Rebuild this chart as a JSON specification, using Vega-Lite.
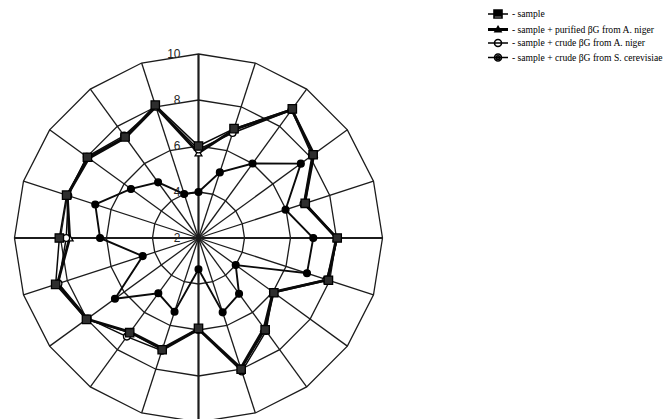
{
  "$schema": "https://vega.github.io/schema/vega-lite/v6.json",
  "width": 664,
  "height": 419,
  "autosize": "none",
  "padding": 0,
  "background": "white",
  "config": {"view": {"stroke": null}},
  "datasets": {
    "rings": [
      {"ring": 4, "angle": [0, 18, 36, 54, 72, 90, 108, 126, 144, 162, 180, 198, 216, 234, 252, 270, 288, 306, 324, 342]},
      {"ring": 6, "angle": [0, 18, 36, 54, 72, 90, 108, 126, 144, 162, 180, 198, 216, 234, 252, 270, 288, 306, 324, 342]},
      {"ring": 8, "angle": [0, 18, 36, 54, 72, 90, 108, 126, 144, 162, 180, 198, 216, 234, 252, 270, 288, 306, 324, 342]},
      {"ring": 10, "angle": [0, 18, 36, 54, 72, 90, 108, 126, 144, 162, 180, 198, 216, 234, 252, 270, 288, 306, 324, 342]}
    ],
    "spokes": [
      {"angle": [0, 18, 36, 54, 72, 90, 108, 126, 144, 162, 180, 198, 216, 234, 252, 270, 288, 306, 324, 342]}
    ],
    "ticks": [{"label": 2}, {"label": 4}, {"label": 6}, {"label": 8}, {"label": 10}],
    "scores": [
      {"series": "sample", "angle": 0, "value": 6.0},
      {"series": "sample", "angle": 18, "value": 7.0},
      {"series": "sample", "angle": 36, "value": 8.94},
      {"series": "sample", "angle": 54, "value": 8.16},
      {"series": "sample", "angle": 72, "value": 6.88},
      {"series": "sample", "angle": 90, "value": 8.03},
      {"series": "sample", "angle": 108, "value": 7.94},
      {"series": "sample", "angle": 126, "value": 6.05},
      {"series": "sample", "angle": 144, "value": 6.93},
      {"series": "sample", "angle": 162, "value": 8.0},
      {"series": "sample", "angle": 180, "value": 5.93},
      {"series": "sample", "angle": 198, "value": 7.11},
      {"series": "sample", "angle": 216, "value": 7.09},
      {"series": "sample", "angle": 234, "value": 8.02},
      {"series": "sample", "angle": 252, "value": 8.53},
      {"series": "sample", "angle": 270, "value": 8.05},
      {"series": "sample", "angle": 288, "value": 8.03},
      {"series": "sample", "angle": 306, "value": 7.97},
      {"series": "sample", "angle": 324, "value": 7.43},
      {"series": "sample", "angle": 342, "value": 8.08},

      {"series": "sample + purified βG from A. niger", "angle": 0, "value": 5.7},
      {"series": "sample + purified βG from A. niger", "angle": 18, "value": 6.95},
      {"series": "sample + purified βG from A. niger", "angle": 36, "value": 8.9},
      {"series": "sample + purified βG from A. niger", "angle": 54, "value": 8.2},
      {"series": "sample + purified βG from A. niger", "angle": 72, "value": 6.85},
      {"series": "sample + purified βG from A. niger", "angle": 90, "value": 8.0},
      {"series": "sample + purified βG from A. niger", "angle": 108, "value": 7.9},
      {"series": "sample + purified βG from A. niger", "angle": 126, "value": 6.0},
      {"series": "sample + purified βG from A. niger", "angle": 144, "value": 6.85},
      {"series": "sample + purified βG from A. niger", "angle": 162, "value": 7.95},
      {"series": "sample + purified βG from A. niger", "angle": 180, "value": 5.95},
      {"series": "sample + purified βG from A. niger", "angle": 198, "value": 7.05},
      {"series": "sample + purified βG from A. niger", "angle": 216, "value": 7.05},
      {"series": "sample + purified βG from A. niger", "angle": 234, "value": 8.0},
      {"series": "sample + purified βG from A. niger", "angle": 252, "value": 8.45},
      {"series": "sample + purified βG from A. niger", "angle": 270, "value": 7.6},
      {"series": "sample + purified βG from A. niger", "angle": 288, "value": 8.0},
      {"series": "sample + purified βG from A. niger", "angle": 306, "value": 7.9},
      {"series": "sample + purified βG from A. niger", "angle": 324, "value": 7.4},
      {"series": "sample + purified βG from A. niger", "angle": 342, "value": 8.0},

      {"series": "sample + crude βG from A. niger", "angle": 0, "value": 5.85},
      {"series": "sample + crude βG from A. niger", "angle": 18, "value": 6.8},
      {"series": "sample + crude βG from A. niger", "angle": 36, "value": 8.88},
      {"series": "sample + crude βG from A. niger", "angle": 54, "value": 8.1},
      {"series": "sample + crude βG from A. niger", "angle": 72, "value": 6.8},
      {"series": "sample + crude βG from A. niger", "angle": 90, "value": 8.05},
      {"series": "sample + crude βG from A. niger", "angle": 108, "value": 7.85},
      {"series": "sample + crude βG from A. niger", "angle": 126, "value": 6.0},
      {"series": "sample + crude βG from A. niger", "angle": 144, "value": 7.0},
      {"series": "sample + crude βG from A. niger", "angle": 162, "value": 8.1},
      {"series": "sample + crude βG from A. niger", "angle": 180, "value": 6.0},
      {"series": "sample + crude βG from A. niger", "angle": 198, "value": 7.15},
      {"series": "sample + crude βG from A. niger", "angle": 216, "value": 7.3},
      {"series": "sample + crude βG from A. niger", "angle": 234, "value": 7.95},
      {"series": "sample + crude βG from A. niger", "angle": 252, "value": 8.4},
      {"series": "sample + crude βG from A. niger", "angle": 270, "value": 7.75},
      {"series": "sample + crude βG from A. niger", "angle": 288, "value": 7.95},
      {"series": "sample + crude βG from A. niger", "angle": 306, "value": 8.0},
      {"series": "sample + crude βG from A. niger", "angle": 324, "value": 7.5},
      {"series": "sample + crude βG from A. niger", "angle": 342, "value": 8.0},

      {"series": "sample + crude βG from S. cerevisiae", "angle": 0, "value": 4.0},
      {"series": "sample + crude βG from S. cerevisiae", "angle": 18, "value": 5.0},
      {"series": "sample + crude βG from S. cerevisiae", "angle": 36, "value": 6.0},
      {"series": "sample + crude βG from S. cerevisiae", "angle": 54, "value": 7.5},
      {"series": "sample + crude βG from S. cerevisiae", "angle": 72, "value": 5.98},
      {"series": "sample + crude βG from S. cerevisiae", "angle": 90, "value": 6.99},
      {"series": "sample + crude βG from S. cerevisiae", "angle": 108, "value": 6.96},
      {"series": "sample + crude βG from S. cerevisiae", "angle": 126, "value": 4.0},
      {"series": "sample + crude βG from S. cerevisiae", "angle": 144, "value": 5.0},
      {"series": "sample + crude βG from S. cerevisiae", "angle": 162, "value": 5.4},
      {"series": "sample + crude βG from S. cerevisiae", "angle": 180, "value": 3.36},
      {"series": "sample + crude βG from S. cerevisiae", "angle": 198, "value": 5.37},
      {"series": "sample + crude βG from S. cerevisiae", "angle": 216, "value": 4.97},
      {"series": "sample + crude βG from S. cerevisiae", "angle": 234, "value": 6.49},
      {"series": "sample + crude βG from S. cerevisiae", "angle": 252, "value": 4.55},
      {"series": "sample + crude βG from S. cerevisiae", "angle": 270, "value": 6.28},
      {"series": "sample + crude βG from S. cerevisiae", "angle": 288, "value": 6.72},
      {"series": "sample + crude βG from S. cerevisiae", "angle": 306, "value": 5.63},
      {"series": "sample + crude βG from S. cerevisiae", "angle": 324, "value": 4.99},
      {"series": "sample + crude βG from S. cerevisiae", "angle": 342, "value": 4.01}
    ]
  },
  "layer": [
    {
      "data": {"name": "rings"},
      "transform": [
        {"flatten": ["angle"]},
        {"calculate": "(datum.ring - 2) * sin(datum.angle * PI / 180)", "as": "px"},
        {"calculate": "(datum.ring - 2) * cos(datum.angle * PI / 180)", "as": "py"}
      ],
      "mark": {"type": "line", "interpolate": "linear-closed", "stroke": "#1c1c1c", "strokeWidth": 1.3},
      "encoding": {
        "x": {"field": "px", "type": "quantitative", "axis": null, "scale": {"domain": [-8.63, 20.239], "nice": false, "zero": false}},
        "y": {"field": "py", "type": "quantitative", "axis": null, "scale": {"domain": [-7.87, 10.348], "nice": false, "zero": false}},
        "detail": {"field": "ring", "type": "nominal"},
        "order": {"field": "angle", "type": "quantitative"}
      }
    },
    {
      "data": {"name": "spokes"},
      "transform": [
        {"flatten": ["angle"]},
        {"calculate": "8 * sin(datum.angle * PI / 180)", "as": "px"},
        {"calculate": "8 * cos(datum.angle * PI / 180)", "as": "py"},
        {"calculate": "0", "as": "cx"}
      ],
      "mark": {"type": "rule", "stroke": "#1c1c1c"},
      "encoding": {
        "x": {"field": "px", "type": "quantitative", "axis": null, "scale": {"domain": [-8.63, 20.239], "nice": false, "zero": false}},
        "y": {"field": "py", "type": "quantitative", "axis": null, "scale": {"domain": [-7.87, 10.348], "nice": false, "zero": false}},
        "x2": {"field": "cx"},
        "y2": {"field": "cx"},
        "strokeWidth": {"condition": {"test": "datum.angle % 90 === 0", "value": 2.2}, "value": 1.3}
      }
    },
    {
      "data": {"name": "ticks"},
      "transform": [{"calculate": "datum.label - 2", "as": "py"}, {"calculate": "0", "as": "cx"}],
      "mark": {"type": "text", "align": "right", "baseline": "middle", "dx": -18, "font": "Liberation Sans", "fontSize": 12, "fill": "#262626", "color": "#262626"},
      "encoding": {
        "x": {"field": "cx", "type": "quantitative", "axis": null, "scale": {"domain": [-8.63, 20.239], "nice": false, "zero": false}},
        "y": {"field": "py", "type": "quantitative", "axis": null, "scale": {"domain": [-7.87, 10.348], "nice": false, "zero": false}},
        "text": {"field": "label", "type": "nominal"}
      }
    },
    {
      "data": {"name": "scores"},
      "transform": [
        {"calculate": "(datum.value - 2) * sin(datum.angle * PI / 180)", "as": "px"},
        {"calculate": "(datum.value - 2) * cos(datum.angle * PI / 180)", "as": "py"}
      ],
      "mark": {"type": "line", "interpolate": "linear-closed", "stroke": "#0a0a0a"},
      "encoding": {
        "x": {"field": "px", "type": "quantitative", "axis": null, "scale": {"domain": [-8.63, 20.239], "nice": false, "zero": false}},
        "y": {"field": "py", "type": "quantitative", "axis": null, "scale": {"domain": [-7.87, 10.348], "nice": false, "zero": false}},
        "detail": {"field": "series", "type": "nominal"},
        "order": {"field": "angle", "type": "quantitative"},
        "strokeWidth": {
          "condition": [
            {"test": "datum.series === 'sample + purified βG from A. niger'", "value": 2.8},
            {"test": "datum.series === 'sample + crude βG from S. cerevisiae'", "value": 1.9}
          ],
          "value": 1.5
        }
      }
    },
    {
      "data": {"name": "scores"},
      "transform": [
        {"calculate": "(datum.value - 2) * sin(datum.angle * PI / 180)", "as": "px"},
        {"calculate": "(datum.value - 2) * cos(datum.angle * PI / 180)", "as": "py"}
      ],
      "mark": {"type": "point", "filled": false, "stroke": "#000", "strokeWidth": 1.3, "opacity": 1},
      "encoding": {
        "x": {"field": "px", "type": "quantitative", "axis": null, "scale": {"domain": [-8.63, 20.239], "nice": false, "zero": false}},
        "y": {"field": "py", "type": "quantitative", "axis": null, "scale": {"domain": [-7.87, 10.348], "nice": false, "zero": false}},
        "order": {"field": "series", "sort": "descending"},
        "shape": {
          "field": "series", "type": "nominal", "legend": null,
          "scale": {
            "domain": ["sample", "sample + purified βG from A. niger", "sample + crude βG from A. niger", "sample + crude βG from S. cerevisiae"],
            "range": ["square", "triangle-up", "circle", "circle"]
          }
        },
        "fill": {
          "field": "series", "type": "nominal", "legend": null,
          "scale": {
            "domain": ["sample", "sample + purified βG from A. niger", "sample + crude βG from A. niger", "sample + crude βG from S. cerevisiae"],
            "range": ["#2e2e2e", "#ffffff", "#ffffff", "#000000"]
          }
        },
        "size": {"condition": {"test": "datum.series === 'sample'", "value": 70}, "value": 46}
      }
    },
    {
      "data": {"name": "scores"},
      "transform": [{"calculate": "0", "as": "cx"}],
      "mark": {"type": "point", "opacity": 0, "color": "#000", "stroke": "#000", "strokeWidth": 1.6},
      "encoding": {
        "x": {"field": "cx", "type": "quantitative", "axis": null, "scale": {"domain": [-8.63, 20.239], "nice": false, "zero": false}},
        "y": {"field": "cx", "type": "quantitative", "axis": null, "scale": {"domain": [-7.87, 10.348], "nice": false, "zero": false}},
        "shape": {
          "field": "series", "type": "nominal",
          "scale": {
            "domain": ["sample", "sample + purified βG from A. niger", "sample + crude βG from A. niger", "sample + crude βG from S. cerevisiae"],
            "range": [
              "M-2,0H-0.8M0.8,0H2M-0.8,-0.8H0.8V0.8H-0.8ZM-0.8,-0.5H0.8M-0.8,-0.2H0.8M-0.8,0.1H0.8M-0.8,0.4H0.8",
              "M-2,-0.15H2M-2,0.15H2M-2,0H2M0,-0.6L0.6,0.45L-0.6,0.45Z",
              "M-2,0H2M-0.7,0A0.7,0.7 0 1,0 0.7,0A0.7,0.7 0 1,0 -0.7,0Z",
              "M-2,0H2M-0.7,0A0.7,0.7 0 1,0 0.7,0A0.7,0.7 0 1,0 -0.7,0ZM-0.35,0A0.35,0.35 0 1,0 0.35,0A0.35,0.35 0 1,0 -0.35,0Z"
            ]
          },
          "legend": {
            "orient": "none",
            "legendX": 492,
            "legendY": 8,
            "title": null,
            "padding": 0,
            "symbolSize": 100,
            "symbolStrokeColor": "#000",
            "symbolFillColor": "#fff",
            "symbolStrokeWidth": 1.6,
            "symbolOpacity": 1,
            "labelOffset": 8,
            "rowPadding": 0.5,
            "labelFont": "Liberation Serif",
            "labelFontSize": 9.6,
            "labelColor": "#000",
            "labelLimit": 400,
            "labelExpr": "'- ' + datum.label"
          }
        }
      }
    }
  ],
  "resolve": {"scale": {"shape": "independent"}, "legend": {"shape": "independent"}}
}
